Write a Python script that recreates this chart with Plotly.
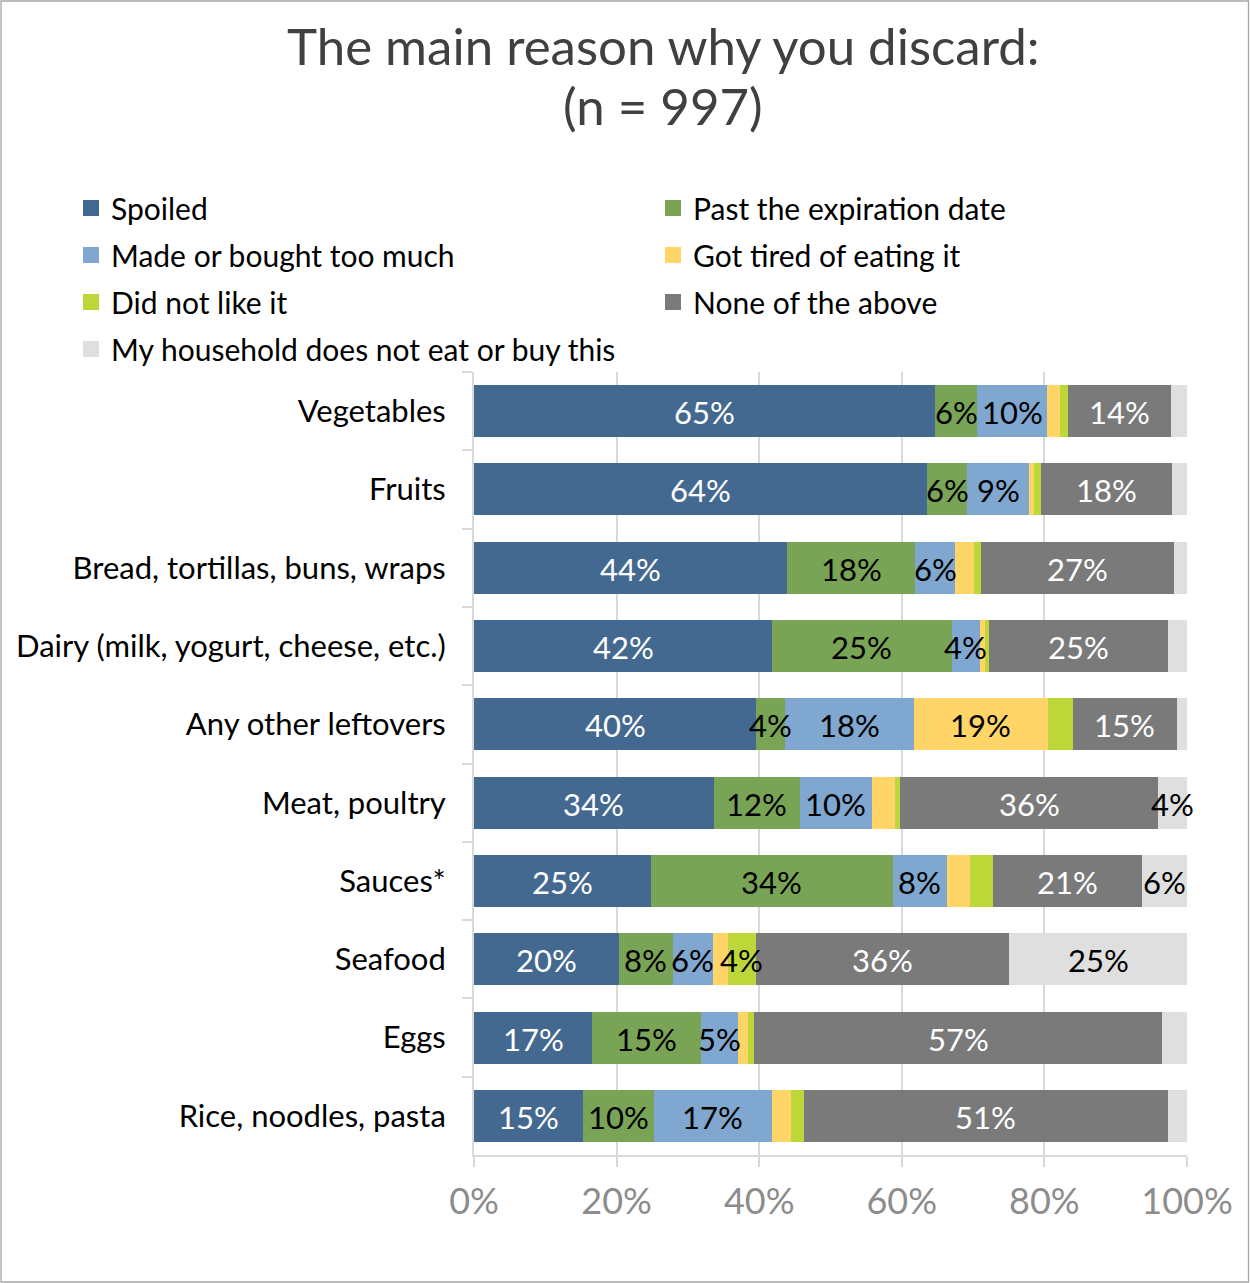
import plotly.graph_objects as go

# Food categories, top to bottom
categories = [
    "Vegetables",
    "Fruits",
    "Bread, tortillas, buns, wraps",
    "Dairy (milk, yogurt, cheese, etc.)",
    "Any other leftovers",
    "Meat, poultry",
    "Sauces*",
    "Seafood",
    "Eggs",
    "Rice, noodles, pasta",
]

# Share of respondents (%) per reason, same order as categories
spoiled = [64.7, 63.6, 43.9, 41.8, 39.6, 33.6, 24.8, 20.3, 16.6, 15.3]
past_expiration = [5.9, 5.6, 18.0, 25.2, 4.0, 12.1, 33.9, 7.6, 15.3, 9.9]
too_much = [9.8, 8.7, 5.6, 4.0, 18.1, 10.1, 7.6, 5.6, 5.1, 16.6]
tired_of_it = [1.8, 0.7, 2.6, 0.7, 18.8, 3.2, 3.2, 2.1, 1.4, 2.7]
did_not_like = [1.1, 0.9, 1.0, 0.5, 3.5, 0.8, 3.3, 3.9, 0.9, 1.8]
none_of_above = [14.4, 18.4, 27.1, 25.1, 14.6, 36.1, 20.9, 35.6, 57.2, 51.0]
not_eaten = [2.3, 2.1, 1.8, 2.7, 1.4, 4.1, 6.3, 24.9, 3.5, 2.7]

# (name, values, colour, label colour, legend column)
series = [
    ("Spoiled", spoiled, "#446991", "white", "legend"),
    ("Past the expiration date", past_expiration, "#79A456", "black", "legend2"),
    ("Made or bought too much", too_much, "#7FA7CF", "black", "legend"),
    ("Got tired of eating it", tired_of_it, "#FFD567", "black", "legend2"),
    ("Did not like it", did_not_like, "#BDD638", "black", "legend"),
    ("None of the above", none_of_above, "#7A7A7A", "white", "legend2"),
    ("My household does not eat or buy this", not_eaten, "#DFDFDF", "black", "legend"),
]

x_ticks = [0, 20, 40, 60, 80, 100]
x_tick_labels = ["0%", "20%", "40%", "60%", "80%", "100%"]

title_lines = ["The main reason why you discard:", "(n = 997)"]

FONT = "Lato"
LABEL_SIZE = 31
W, H = 1250, 1283
M_L, M_R, M_T, M_B = 474, 63, 372, 128

pw = W - M_L - M_R
ph = H - M_T - M_B


def px_to_paper_x(px):
    return (px - M_L) / pw


def py_to_paper_y(py):
    return (H - M_B - py) / ph


fig = go.Figure()

# Stacked bars
for name, vals, color, txt_color, leg in series:
    fig.add_trace(go.Bar(
        y=categories,
        x=vals,
        name=name,
        legendgroup=name,
        showlegend=False,
        orientation="h",
        marker=dict(color=color, line=dict(width=0)),
        hoverinfo="skip",
    ))

# Value labels centred on each segment, drawn above all bars so that
# labels wider than a thin segment overlap its neighbours
running = [0.0] * len(categories)
for name, vals, color, txt_color, leg in series:
    for i, (cat, v) in enumerate(zip(categories, vals)):
        mid = running[i] + v / 2
        running[i] += v
        if v < 3.8:
            continue
        fig.add_annotation(
            x=mid, y=cat, xref="x", yref="y",
            text=f"{v:.0f}%",
            showarrow=False,
            xanchor="center", yanchor="middle",
            yshift=-1,
            font=dict(family=FONT, size=LABEL_SIZE, color=txt_color),
        )

# Square swatches for the legend entries
for name, vals, color, txt_color, leg in series:
    fig.add_trace(go.Scatter(
        x=[None], y=[None],
        mode="markers",
        name=name,
        legendgroup=name,
        legend=leg,
        marker=dict(symbol="square", size=16, color=color),
        hoverinfo="skip",
    ))

# Outer frame around the whole chart
fig.add_shape(
    type="rect", xref="paper", yref="paper",
    x0=px_to_paper_x(1), x1=px_to_paper_x(1248.5),
    y0=py_to_paper_y(1282), y1=py_to_paper_y(1),
    line=dict(color="#A6A6A6", width=1.3), fillcolor="rgba(0,0,0,0)",
    layer="below",
)

# Two-line chart title
for text, cy in zip(title_lines, [45, 106]):
    fig.add_annotation(
        text=text, xref="paper", yref="paper",
        x=px_to_paper_x(663), y=py_to_paper_y(cy),
        xanchor="center", yanchor="middle", showarrow=False,
        font=dict(family=FONT, size=51, color="#404040"),
    )

legend_common = dict(
    orientation="v",
    xref="container", yref="container",
    xanchor="left", yanchor="top",
    font=dict(family=FONT, size=30, color="black"),
    traceorder="grouped",
    tracegroupgap=5,
    itemclick=False,
    itemdoubleclick=False,
    bgcolor="rgba(0,0,0,0)",
)

fig.update_layout(
    width=W,
    height=H,
    barmode="stack",
    bargap=0.335,
    plot_bgcolor="white",
    paper_bgcolor="white",
    margin=dict(l=M_L, r=M_R, t=M_T, b=M_B, autoexpand=False),
    font=dict(family=FONT, color="black"),
    showlegend=True,
    legend=dict(x=71 / W, y=1 - 182 / H, **legend_common),
    legend2=dict(x=653 / W, y=1 - 182 / H, **legend_common),
    xaxis=dict(
        range=[0, 100],
        tickvals=x_ticks,
        ticktext=x_tick_labels,
        showgrid=True,
        gridcolor="#D9D9D9",
        gridwidth=2,
        showline=True,
        linecolor="#D9D9D9",
        linewidth=2,
        ticks="outside",
        ticklen=10,
        tickwidth=2,
        tickcolor="#D9D9D9",
        ticklabelstandoff=4,
        tickfont=dict(family=FONT, size=36, color="#8C8C8C"),
        zeroline=False,
        fixedrange=True,
    ),
    yaxis=dict(
        autorange="reversed",
        showline=True,
        linecolor="#D9D9D9",
        linewidth=2,
        ticks="outside",
        tickson="boundaries",
        ticklen=10,
        tickwidth=2,
        tickcolor="#D9D9D9",
        ticklabelstandoff=20,
        tickfont=dict(family=FONT, size=31, color="black"),
        fixedrange=True,
    ),
)

fig.write_html("out.html")
